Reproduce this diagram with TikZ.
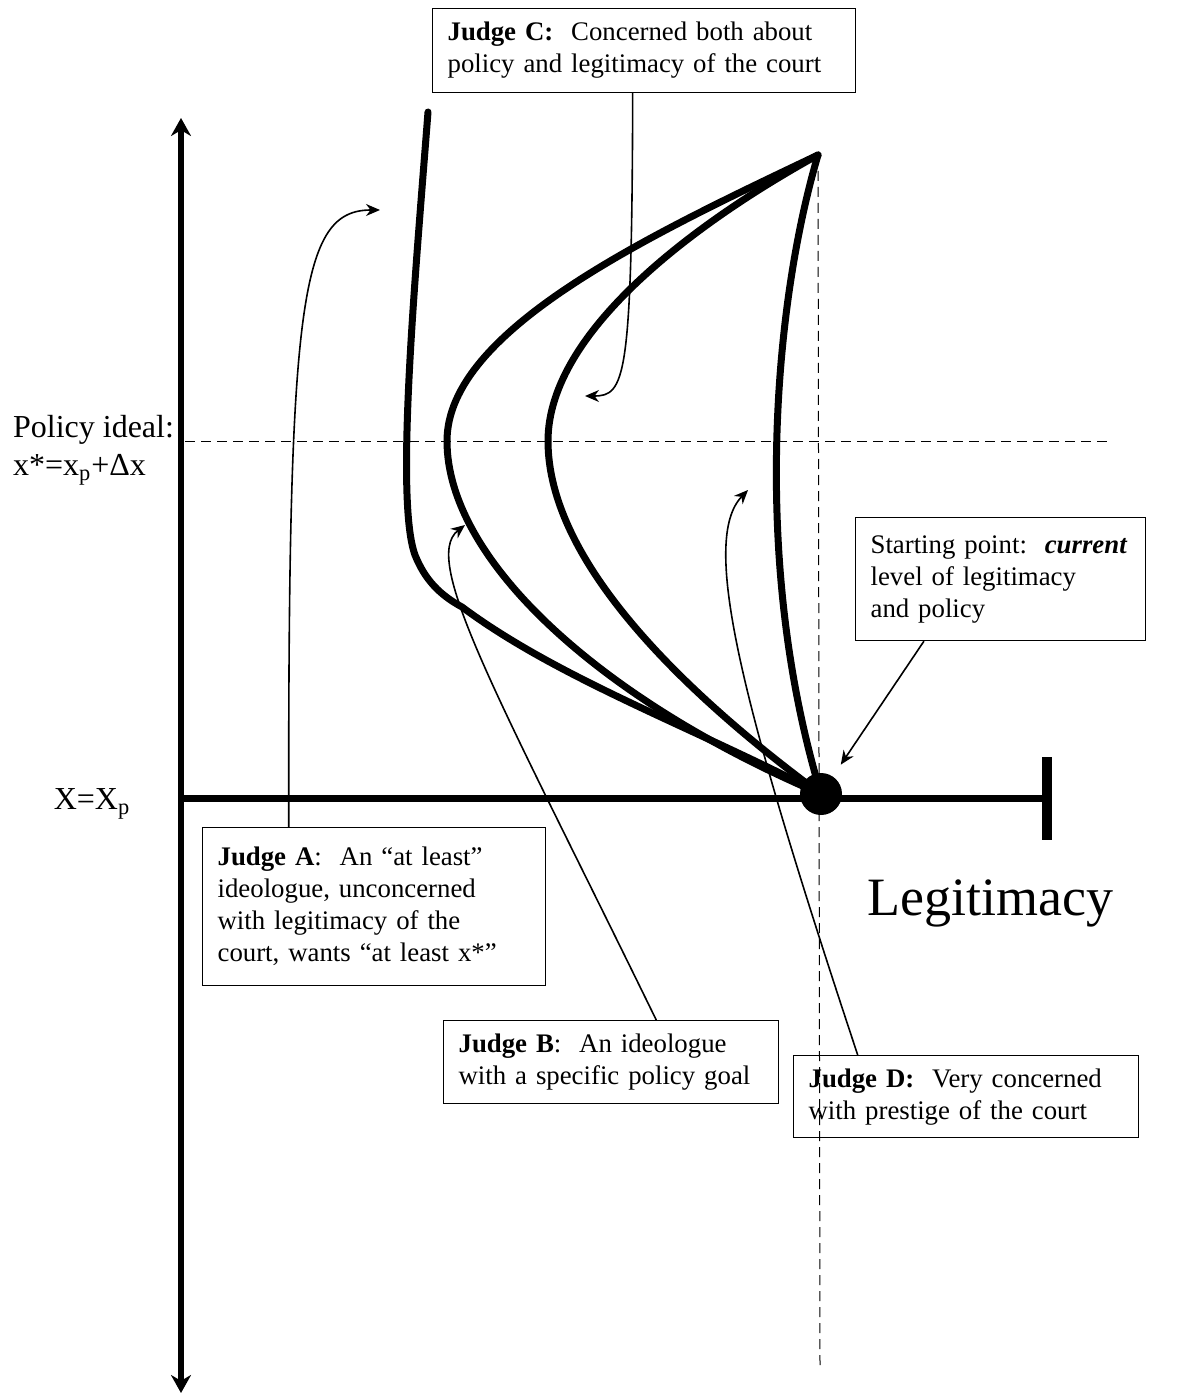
\documentclass[tikz,border=0pt]{standalone}
\usepackage{fontspec}
\setmainfont{Liberation Serif}
\usetikzlibrary{arrows.meta}

\tikzset{
  judgebox/.style={draw, line width=0.6pt, anchor=north west, align=left,
    inner xsep=7.5pt, inner ysep=0pt, font=\fontsize{13.4}{16}\selectfont},
  curve/.style={line width=3.5pt, line cap=round},
  note/.style={line width=0.8pt, -{Stealth[length=7pt,width=6pt]}},
  guide/.style={line width=0.5pt, dash pattern=on 5pt off 3pt},
}

\begin{document}
\begin{tikzpicture}[x=0.5pt, y=-0.5pt]
    \useasboundingbox (0,0) rectangle (1179,1395);

    % Key points
    \coordinate (peak) at (818,155);
    \coordinate (top) at (428,112);
    \node[circle, fill, inner sep=0pt, minimum size=21pt] (start) at (821,794) {};

    % Axes
    \draw[line width=3pt, {Stealth[length=9pt,width=10pt]}-{Stealth[length=9pt,width=10pt]}]
        (181,1393) -- (181,118);
    \draw[line width=3.5pt] (181,798) -- (1047,798);
    \draw[line width=5pt] (1047,757) -- (1047,840);

    % Guides
    \draw[guide] (peak) -- (820,1370);
    \draw[guide] (185,441) -- (1110,441);

    % Axis labels
    \node[anchor=north west, align=left, font=\fontsize{16}{19}\selectfont] (ideal) at (6,408)
        {Policy ideal:\\x*=x\textsubscript{p}+Δx};
    \node[font=\fontsize{16}{19}\selectfont] (xp) at (92,804) {X=X\textsubscript{p}};
    \node[font=\fontsize{27}{30}\selectfont] (legit) at (990,903) {Legitimacy};

    % Judge curves
    \draw[curve] (top) .. controls (415,280) and (395,500) .. (415,555)
        .. controls (425,580) and (440,595) .. (462,607)
        .. controls (560,680) and (700,730) .. (start.center);
    \draw[curve] (peak) .. controls (650,235) and (447,330) .. (447,441)
        .. controls (447,560) and (600,700) .. (start.center);
    \draw[curve] (peak) .. controls (700,220) and (548,330) .. (548,441)
        .. controls (548,560) and (680,690) .. (start.center);
    \draw[curve] (peak) .. controls (775,300) and (750,560) .. (start.center);

    % Judge boxes
    \node[judgebox, text width=196.5pt, minimum height=42pt] (jC) at (432,8)
        {\textbf{Judge C:}\ \ Concerned both about\\policy and legitimacy of the court};
    \node[judgebox, text width=130pt, minimum height=61.5pt] (jS) at (855,517)
        {\mbox{Starting point:\ \ \textbf{\textit{current}}}\\level of legitimacy\\and policy};
    \node[judgebox, text width=156.5pt, minimum height=79pt] (jA) at (202,827)
        {\textbf{Judge A}:\ \ An “at least”\\ideologue, unconcerned\\with legitimacy of the\\court, wants “at least x*”};
    \node[judgebox, text width=152.5pt, minimum height=41.5pt] (jB) at (443,1020)
        {\textbf{Judge B}:\ \ An ideologue\\with a specific policy goal};
    \node[judgebox, text width=157.5pt, minimum height=41pt] (jD) at (793,1055)
        {\textbf{Judge D:}\ \ Very concerned\\with prestige of the court};

    % Pointers
    \coordinate (tipA) at (380,210);
    \coordinate (tipB) at (465,525);
    \coordinate (tipC) at (585,396);
    \coordinate (tipD) at (748,490);
    \draw[note] (jA.137) .. controls (288,300) and (300,210) .. (tipA);
    \draw[note] (jB.43) .. controls (500,700) and (420,560) .. (tipB);
    \draw[note] (jC.255) .. controls (632,380) and (625,396) .. (tipC);
    \draw[note] (jD.159.6) .. controls (740,700) and (700,540) .. (tipD);
    \draw[note, shorten >=7pt] (jS.219.4) -- (start);
\end{tikzpicture}
\end{document}
